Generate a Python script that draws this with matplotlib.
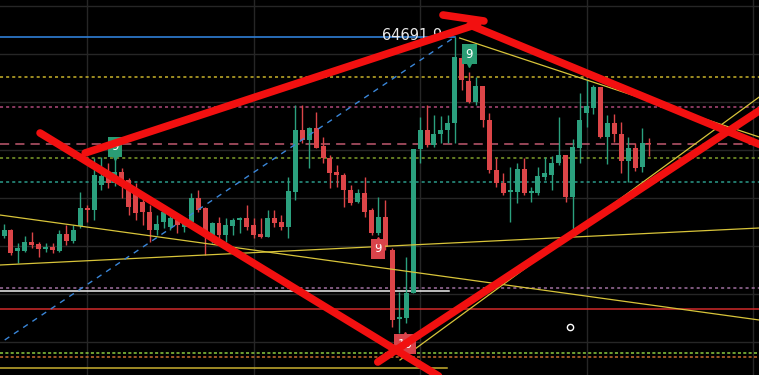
import numpy as np
import matplotlib.pyplot as plt

# candle data (price units)
opens = [62700, 62760, 62550, 62550, 62640, 62620, 62570, 62590, 62550, 62720,
         62650, 62800, 62980, 62960, 63210, 63330, 63230, 63340, 63260, 63180,
         63040, 62940, 62760, 62840, 62790, 62860, 62790, 62840, 63080, 62980,
         62710, 62830, 62710, 62800, 62860, 62880, 62810, 62720, 62690, 62880,
         62840, 62790, 63140, 63760, 63660, 63780, 63600, 63480, 63340, 63310,
         63160, 63040, 63130, 62960, 62730, 62890, 62560, 61870, 61880, 62130,
         63570, 63760, 63610, 63720, 63760, 63830, 64480, 64250, 64040, 64200,
         63860, 63360, 63230, 63140, 63140, 63370, 63130, 63130, 63290, 63310,
         63430, 63510, 63090, 63580, 63930, 63980, 64190, 63690, 63830, 63720,
         63450, 63580, 63390, 63630]
highs = [62820, 62770, 62630, 62700, 62740, 62640, 62630, 62630, 62760, 62810,
         62810, 63140, 63010, 63480, 63490, 63430, 63480, 63380, 63280, 63230,
         63110, 63010, 62910, 63010, 62930, 62900, 62880, 63130, 63160, 62990,
         62840, 62890, 62880, 62880, 62890, 63010, 62880, 62880, 62960, 62960,
         62910, 63290, 64010, 64010, 63790, 63940, 63690, 63510, 63410, 63330,
         63210, 63170, 63290, 62980, 63090, 63060, 62580, 62140, 62490, 63570,
         63890, 64010, 63910, 63900, 63910, 64690, 64510, 64340, 64290, 64200,
         63930, 63480, 63330, 63390, 63430, 63480, 63190, 63390, 63490, 63500,
         63890, 63510, 63670, 64130, 64260, 64210, 64190, 63910, 63920, 63840,
         63690, 63630, 63780, 63680]
lows = [62680, 62510, 62430, 62540, 62580, 62490, 62540, 62530, 62540, 62610,
        62630, 62780, 62840, 62860, 63160, 63180, 63200, 63080, 62910, 62860,
        62810, 62640, 62710, 62780, 62760, 62730, 62740, 62810, 62940, 62510,
        62630, 62660, 62640, 62710, 62730, 62760, 62680, 62680, 62690, 62790,
        62760, 62680, 63060, 63630, 63380, 63580, 63430, 63180, 63190, 62990,
        63010, 63030, 62890, 62710, 62710, 62560, 61790, 61730, 61830, 62130,
        63430, 63590, 63590, 63630, 63630, 63630, 64160, 64030, 64010, 63790,
        63330, 63190, 63110, 62840, 63030, 63110, 63040, 63110, 63260, 63160,
        63410, 63040, 62760, 63430, 63790, 63920, 63680, 63420, 63640, 63330,
        63240, 63350, 63340, 63500]
closes = [62760, 62530, 62580, 62640, 62610, 62570, 62590, 62560, 62720, 62650,
          62760, 62980, 62960, 63310, 63300, 63230, 63340, 63200, 62990, 62930,
          62940, 62760, 62820, 62940, 62880, 62810, 62830, 63080, 62960, 62690,
          62830, 62710, 62810, 62860, 62880, 62790, 62710, 62690, 62880, 62830,
          62790, 63150, 63760, 63660, 63780, 63580, 63480, 63330, 63310, 63160,
          63030, 63130, 62940, 62730, 62890, 62590, 61860, 61890, 62130, 63570,
          63760, 63610, 63720, 63760, 63830, 64490, 64260, 64040, 64200, 63860,
          63360, 63230, 63130, 63160, 63370, 63130, 63150, 63300, 63330, 63430,
          63510, 63090, 63590, 63860, 64000, 64190, 63690, 63830, 63720, 63450,
          63580, 63380, 63630, 63620]

PEAK_PRICE = 64691.9
grid_x = [12, 36, 60, 84, 108]
grid_y = [61640, 62120, 62600, 63080, 63560, 64040, 64520, 65000]

# horizontal levels: price, color, style, x-end (None = full width)
levels = [
    (64290, "#c8b22a", (0, (2, 2)), None),
    (63990, "#b04a7a", (0, (2, 2)), None),
    (63620, "#c05a70", (0, (6, 4)), None),
    (63480, "#7f9e2a", (0, (2, 2)), None),
    (63240, "#2a9a8a", (0, (2, 2)), None),
    (62180, "#a070a0", (0, (2, 2)), None),
    (62155, "#f0f0f0", "-", 64.2),
    (61970, "#d02a2a", "-", None),
    (61530, "#8ccc40", (0, (2, 1.5)), None),
    (61490, "#c87030", (0, (2, 1.5)), None),
    (61380, "#c8b030", "-", 63.9),
]

# drawn trend lines (x in candle index, price)
yellow_lines = [(-0.6, 62910, 108.9, 61860),
                (-0.6, 62410, 108.9, 62780),
                (65.7, 64680, 108.9, 63690),
                (57.1, 61460, 108.9, 64090)]
blue_dash = (0.1, 61660, 65.0, 64690)
red_strokes = [(11.7, 63530, 68.3, 64820),
               (63.3, 64910, 69.2, 64850),
               (67.2, 64810, 109.5, 63600),
               (5.2, 63730, 65.5, 61180),
               (53.9, 61440, 109.5, 63980)]

# TD-sequential style labels: x, price, text, color, pointer side
td_labels = [(67.1, 64520, "9", "#2a9d74", "down"),
             (16.0, 63590, "9", "#2a9d74", "down"),
             (53.9, 62570, "9", "#d9434a", "up"),
             (57.8, 61620, "10", "#d9434a", "up")]

GREEN = "#2ba07e"
RED = "#dc4548"

fig = plt.figure(figsize=(7.59, 3.75), dpi=100, facecolor="black")
ax = fig.add_axes([0, 0, 1, 1])
ax.set_facecolor("black")
ax.set_xlim(-0.58, 108.87)
ax.set_ylim(61310, 65060)
ax.axis("off")

for gx in grid_x:
    ax.axvline(gx, color="#262626", lw=1, zorder=0)
for gy in grid_y:
    ax.axhline(gy, color="#262626", lw=1, zorder=0)

for price, col, ls, xend in levels:
    if xend is None:
        ax.axhline(price, color=col, lw=1.1, ls=ls, zorder=1)
    else:
        ax.plot([-0.58, xend], [price, price], color=col, lw=1.1, ls=ls, zorder=1)

ax.plot([-0.58, 65.0], [PEAK_PRICE, PEAK_PRICE], color="#2f7fd6", lw=1.2, zorder=1)

o = np.array(opens); h = np.array(highs); l = np.array(lows); c = np.array(closes)
x = np.arange(len(o))
cols = np.where(c >= o, GREEN, RED)
ax.vlines(x, l, h, colors=cols, lw=1, zorder=3)
body = np.where(np.abs(c - o) < 12, 12, np.abs(c - o))
ax.bar(x, body, bottom=np.minimum(o, c), width=0.72, color=cols, zorder=3)

for x0, p0, x1, p1 in yellow_lines:
    ax.plot([x0, x1], [p0, p1], color="#d8c43a", lw=0.9, zorder=4)
ax.plot(blue_dash[::2], blue_dash[1::2], color="#3a86d8", lw=1, ls=(0, (4, 4)), zorder=4)

for xi, p, txt, col, side in td_labels:
    ax.text(xi, p, txt, color="white", fontsize=8.5, ha="center", va="center",
            bbox=dict(boxstyle="square,pad=0.3", fc=col, ec="none"), zorder=5)
    if side == "down":
        ax.plot(xi, p - 95, marker="v", color=col, ms=5, zorder=5)
    else:
        ax.plot(xi, p + 95, marker="^", color=col, ms=5, zorder=5)

ax.text(54.5, PEAK_PRICE + 15, "64691.9", color="#e8e8e8", fontsize=10.5,
        ha="left", va="center", zorder=5)
ax.plot(81.6, 61790, marker="o", mfc="none", mec="white", ms=4.5, mew=1, zorder=5)

for x0, p0, x1, p1 in red_strokes:
    ax.plot([x0, x1], [p0, p1], color="#f21010", lw=5.5, solid_capstyle="round", zorder=6)

fig.savefig("out.png", dpi=100, facecolor="black")
